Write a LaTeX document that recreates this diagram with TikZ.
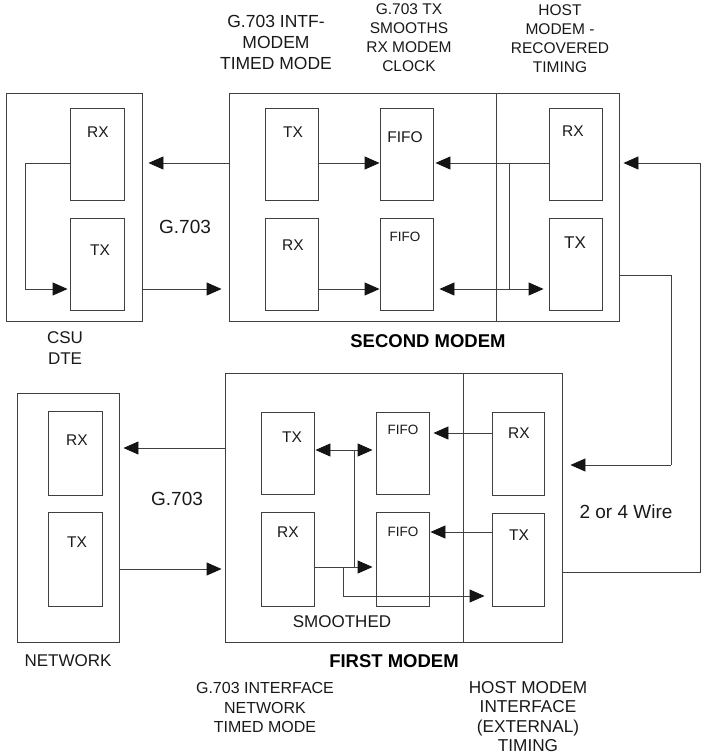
\documentclass[tikz,border=0pt]{standalone}
\usepackage{fontspec}
\setmainfont{Liberation Sans}
\usetikzlibrary{arrows.meta,calc}
\tikzset{
  tipA/.tip={Triangle[length=15pt,width=13pt,color=black!92]}
}
\begin{document}
\begin{tikzpicture}[x=1pt,y=-1pt,
  ln/.style={line width=0.9pt,draw=black!75},
  arr/.style={ln,-tipA},
  darr/.style={ln,tipA-tipA},
  outerbox/.style={ln,draw,inner sep=0pt},
  blk/.style={ln,draw,inner sep=0pt,minimum width=53pt},
  txt/.style={inner sep=0pt,align=center,text=black!90,font=\fontsize{16}{19.5}\selectfont},
  big/.style={inner sep=0pt,text=black!90,font=\fontsize{19}{22}\selectfont},
  bx/.style={inner sep=0pt,text=black!90,font=\fontsize{15.5}{18}\selectfont},
  bxs/.style={inner sep=0pt,text=black!90,font=\fontsize{13.5}{16}\selectfont},
  ttl/.style={inner sep=0pt,font=\bfseries\fontsize{18.5}{22}\selectfont}
]
\useasboundingbox (0,0) rectangle (702,754);

% ---------- outer boxes ----------
\node[outerbox,minimum width=136pt,minimum height=228pt] (csuO) at (74,207) {};
\node[outerbox,minimum width=267pt,minimum height=228pt] (smL) at (362.5,207) {};
\node[outerbox,minimum width=123pt,minimum height=228pt] (smR) at (557.5,207) {};
\node[outerbox,minimum width=102pt,minimum height=249pt] (netO) at (68,517.5) {};
\node[outerbox,minimum width=238pt,minimum height=269pt] (fmL) at (344,507.5) {};
\node[outerbox,minimum width=99pt,minimum height=269pt] (fmR) at (512.5,507.5) {};

% ---------- inner blocks, second modem row ----------
\node[blk,minimum width=54pt,minimum height=92pt] (csuRX) at (97,154) {};
\node[blk,minimum width=54pt,minimum height=92pt] (csuTX) at (97,264) {};
\node[blk,minimum height=92pt] (smTX) at (291.5,154) {};
\node[blk,minimum height=92pt] (smRX) at (291.5,264) {};
\node[blk,minimum height=92pt] (smF1) at (406.5,154) {};
\node[blk,minimum height=92pt] (smF2) at (406.5,264) {};
\node[blk,minimum height=92pt] (smHRX) at (575.5,154) {};
\node[blk,minimum height=92pt] (smHTX) at (575.5,264) {};

% ---------- inner blocks, first modem row ----------
\node[blk,minimum width=54pt,minimum height=84pt] (netRX) at (75,453) {};
\node[blk,minimum width=54pt,minimum height=94pt] (netTX) at (75,559) {};
\node[blk,minimum height=82pt] (fmTX) at (287.5,453) {};
\node[blk,minimum height=94pt] (fmRX) at (287.5,559) {};
\node[blk,minimum height=82pt] (fmF1) at (402.5,453) {};
\node[blk,minimum height=94pt] (fmF2) at (402.5,559) {};
\node[blk,minimum width=52pt,minimum height=83pt] (fmHRX) at (518,453.5) {};
\node[blk,minimum width=52pt,minimum height=93pt] (fmHTX) at (518,559.5) {};

% ---------- block labels ----------
\node[bx] (tcsuRX) at (98,132) {RX};
\node[bx] (tcsuTX) at (100,250) {TX};
\node[bx] (tsmTX) at (293,132) {TX};
\node[bx] (tsmRX) at (293,245) {RX};
\node[bx] (tsmF1) at (405,137) {FIFO};
\node[bxs] (tsmF2) at (405,237) {FIFO};
\node[bx] (tsmHRX) at (573,131) {RX};
\node[inner sep=0pt,text=black!90,font=\fontsize{17}{20}\selectfont] (tsmHTX) at (575,243) {TX};
\node[bx] (tnetRX) at (77,440) {RX};
\node[bx] (tnetTX) at (77,542) {TX};
\node[bx] (tfmTX) at (292,437) {TX};
\node[bx] (tfmRX) at (288,532) {RX};
\node[bxs] (tfmF1) at (403,430) {FIFO};
\node[bxs] (tfmF2) at (403,532) {FIFO};
\node[bx] (tfmHRX) at (519,433) {RX};
\node[bx] (tfmHTX) at (519,535) {TX};

% ---------- free labels ----------
\node[txt,font=\fontsize{17.5}{21}\selectfont] (l1) at (276,42) {G.703 INTF-\\MODEM\\TIMED MODE};
\node[txt,font=\fontsize{15.5}{19}\selectfont] (l2) at (409,38) {G.703 TX\\SMOOTHS\\RX MODEM\\CLOCK};
\node[txt,font=\fontsize{15.5}{19}\selectfont] (l3) at (560,39) {HOST\\MODEM -\\RECOVERED\\TIMING};
\node[big] (g1) at (185,227) {G.703};
\node[txt,font=\fontsize{17}{21}\selectfont] (l4) at (65,348.5) {CSU\\DTE};
\node[ttl] (l5) at (428,341.5) {SECOND MODEM};
\node[big] (w) at (626,512) {2 or 4 Wire};
\node[big] (g2) at (177,499) {G.703};
\node[txt,font=\fontsize{17}{20}\selectfont] (l6) at (342,622) {SMOOTHED};
\node[txt,font=\fontsize{17}{20}\selectfont] (l7) at (68,661) {NETWORK};
\node[ttl] (l8) at (394,661.5) {FIRST MODEM};
\node[txt] (l9) at (265,707.5) {G.703 INTERFACE\\NETWORK\\TIMED MODE};
\node[txt,font=\fontsize{17.2}{19.2}\selectfont] (l10) at (528,716.5) {HOST MODEM\\INTERFACE\\(EXTERNAL)\\TIMING};

% ---------- row / column coordinates ----------
\coordinate (ra) at (0,163);
\coordinate (rb) at (0,289);
\coordinate (rw) at (0,275);
\coordinate (cl) at (25,0);
\coordinate (cb) at (509,0);
\coordinate (cw1) at (671,0);
\coordinate (cw2) at (700,0);
\coordinate (fa) at (0,433);
\coordinate (fb) at (0,532);
\coordinate (fc) at (0,450);
\coordinate (fd) at (0,567);
\coordinate (fe) at (0,596);
\coordinate (fl1) at (0,448);
\coordinate (fl2) at (0,569);
\coordinate (fw1) at (0,465);
\coordinate (fw2) at (0,572);
\coordinate (cf) at (354,0);
\coordinate (cg) at (343,0);

% ---------- second modem connections ----------
\draw[arr,shorten >=6pt] (smL.west |- ra) -- (csuO.east |- ra);
\draw[arr,shorten >=7pt] (csuO.east |- rb) -- (smL.west |- rb);
\draw[ln] (csuRX.west |- ra) -- (cl |- ra) -- (cl |- rb);
\draw[arr,shorten >=2pt] (cl |- rb) -- (csuTX.west |- rb);
\draw[arr] (smTX.east |- ra) -- (smF1.west |- ra);
\draw[arr] (smRX.east |- rb) -- (smF2.west |- rb);
\draw[ln] (smHRX.west |- ra) -- (cb |- ra) -- (cb |- rb);
\draw[arr,shorten >=2pt] (cb |- ra) -- (smF1.east |- ra);
\draw[arr,shorten >=6pt] (cb |- rb) -- (smF2.east |- rb);
\draw[arr,shorten >=5pt] (cb |- rb) -- (smHTX.west |- rb);

% ---------- wire loop ----------
\draw[ln] (smR.east |- rw) -- (cw1 |- rw) -- (cw1 |- fw1);
\draw[arr,shorten >=8pt] (cw1 |- fw1) -- (fmR.east |- fw1);
\draw[ln] (fmR.east |- fw2) -- (cw2 |- fw2) -- (cw2 |- ra);
\draw[arr,shorten >=4pt] (cw2 |- ra) -- (smR.east |- ra);

% ---------- first modem connections ----------
\draw[arr,shorten >=4pt] (fmL.west |- fl1) -- (netO.east |- fl1);
\draw[arr,shorten >=3pt] (netO.east |- fl2) -- (fmL.west |- fl2);
\draw[arr,shorten >=4pt] (fmHRX.west |- fa) -- (fmF1.east |- fa);
\draw[arr,shorten >=1pt] (fmHTX.west |- fb) -- (fmF2.east |- fb);
\draw[darr,shorten >=3pt,shorten <=1pt] (fmTX.east |- fc) -- (fmF1.west |- fc);
\draw[arr,shorten >=3pt] (fmRX.east |- fd) -- (fmF2.west |- fd);
\draw[ln] (cf |- fc) -- (cf |- fd);
\draw[ln] (cg |- fd) -- (cg |- fe);
\draw[arr,shorten >=7pt] (cg |- fe) -- (fmHTX.west |- fe);
\end{tikzpicture}
\end{document}
